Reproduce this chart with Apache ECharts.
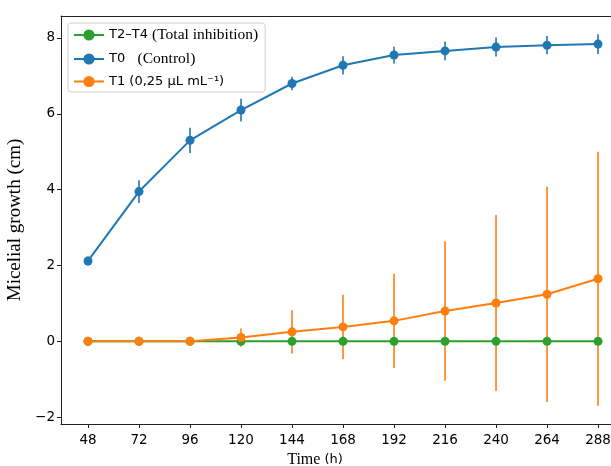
<!DOCTYPE html>
<html>
<head>
<meta charset="utf-8">
<script src="https://cdn.jsdelivr.net/npm/echarts@6/dist/echarts.min.js"></script>
<style>
  html, body { margin: 0; padding: 0; background: #fff; }
  #chart { width: 611px; height: 466px; }
</style>
</head>
<body>
<div id="chart"></div>
<script>
// 时间 (h)
var hours = [48, 72, 96, 120, 144, 168, 192, 216, 240, 264, 288];
// T2-T4 全部抑制
var t24Mean = [0, 0, 0, 0, 0, 0, 0, 0, 0, 0, 0];
// T0 对照
var t0Mean = [2.12, 3.95, 5.30, 6.10, 6.80, 7.28, 7.55, 7.66, 7.76, 7.81, 7.84];
var t0Err = [0.12, 0.30, 0.33, 0.30, 0.18, 0.24, 0.22, 0.25, 0.25, 0.24, 0.26];
// T1 0,25 µL/mL
var t1Mean = [0, 0, 0, 0.10, 0.25, 0.38, 0.54, 0.80, 1.01, 1.24, 1.65];
var t1Err = [0, 0, 0, 0.24, 0.57, 0.85, 1.24, 1.84, 2.32, 2.84, 3.35];
// 刻度
var yTicks = [-2, 0, 2, 4, 6, 8];

var names = ["T2-T4", "T0", "T1"];
var legendText = {
  "T2-T4": "{s|T2–T4 }{t|(Total inhibition)}",
  "T0": "{s|T0   }{t|(Control)}",
  "T1": "{s|T1 (0,25 μL mL⁻¹)}"
};

function pairs(ys) {
  return hours.map(function (h, i) { return [h, ys[i]]; });
}
function errData(ys, es) {
  var out = [];
  hours.forEach(function (h, i) {
    if (es[i] > 0) out.push([h, ys[i] - es[i], ys[i] + es[i]]);
  });
  return out;
}
// 误差线 (画在折线下面)
function errSeries(ys, es, color) {
  return {
    type: "custom",
    z: 1,
    silent: true,
    data: errData(ys, es),
    encode: { x: 0, y: [1, 2] },
    renderItem: function (params, api) {
      var lo = api.coord([api.value(0), api.value(1)]);
      var hi = api.coord([api.value(0), api.value(2)]);
      return {
        type: "line",
        shape: { x1: lo[0], y1: lo[1], x2: hi[0], y2: hi[1] },
        style: { stroke: color, lineWidth: 1.6 }
      };
    }
  };
}
function lineSeries(name, ys, color) {
  return {
    name: name,
    type: "line",
    z: 2,
    data: pairs(ys),
    symbol: "circle",
    symbolSize: 9,
    color: color,
    lineStyle: { width: 2, color: color },
    itemStyle: { color: color },
    emphasis: { disabled: true }
  };
}

var axisLineStyle = { color: "#222", width: 1 };
var chart = echarts.init(document.getElementById("chart"));
var option = {
  animation: false,
  // 右边框在画面外, 只画左/上/下
  grid: { left: 61, right: 0, top: 16, bottom: 42, containLabel: false, outerBoundsMode: "none" },
  legend: {
    data: names,
    orient: "vertical",
    left: 68, top: 23,
    itemWidth: 30, itemHeight: 14, itemGap: 8,
    padding: [4, 7, 4, 5],
    backgroundColor: "#fff",
    borderColor: "#d0d0d0", borderWidth: 1, borderRadius: 3,
    formatter: function (name) { return legendText[name]; },
    textStyle: {
      rich: {
        s: { fontFamily: "DejaVu Sans", fontSize: 13, color: "#000" },
        t: { fontFamily: "Liberation Serif", fontSize: 15.5, color: "#000" }
      }
    }
  },
  xAxis: [
    {
      type: "value",
      min: 35.3, max: 294.1,
      name: "{t|Time }{h|(h)}",
      nameLocation: "middle",
      nameGap: 20,
      nameTextStyle: {
        padding: [0, 42, 0, 0],
        rich: {
          t: { fontFamily: "Liberation Serif", fontSize: 16, color: "#000" },
          h: { fontFamily: "DejaVu Sans", fontSize: 13, color: "#000" }
        }
      },
      axisLine: { show: true, onZero: false, lineStyle: axisLineStyle },
      axisTick: { show: true, length: 4, customValues: hours, lineStyle: { color: "#222" } },
      axisLabel: { customValues: hours, fontFamily: "DejaVu Sans", fontSize: 13.5, color: "#000", margin: 9 },
      splitLine: { show: false }
    },
    {
      type: "value",
      position: "top",
      min: 35.3, max: 294.1,
      axisLine: { show: true, onZero: false, lineStyle: axisLineStyle },
      axisTick: { show: false },
      axisLabel: { show: false },
      splitLine: { show: false }
    }
  ],
  yAxis: {
    type: "value",
    min: -2.18, max: 8.58,
    name: "Micelial growth (cm)",
    nameLocation: "middle",
    nameRotate: 90,
    nameGap: 33,
    nameTextStyle: { fontFamily: "Liberation Serif", fontSize: 19, color: "#000" },
    axisLine: { show: true, onZero: false, lineStyle: axisLineStyle },
    axisTick: { show: true, length: 4, customValues: yTicks, lineStyle: { color: "#222" } },
    axisLabel: {
      customValues: yTicks,
      fontFamily: "DejaVu Sans", fontSize: 13.5, color: "#000", margin: 6,
      formatter: function (v) { return v < 0 ? "−" + Math.abs(v) : String(v); }
    },
    splitLine: { show: false }
  },
  series: [
    errSeries(t0Mean, t0Err, "#1f77b4"),
    errSeries(t1Mean, t1Err, "#ff7f0e"),
    lineSeries("T2-T4", t24Mean, "#2ca02c"),
    lineSeries("T0", t0Mean, "#1f77b4"),
    lineSeries("T1", t1Mean, "#ff7f0e")
  ]
};
chart.setOption(option);
</script>
</body>
</html>
